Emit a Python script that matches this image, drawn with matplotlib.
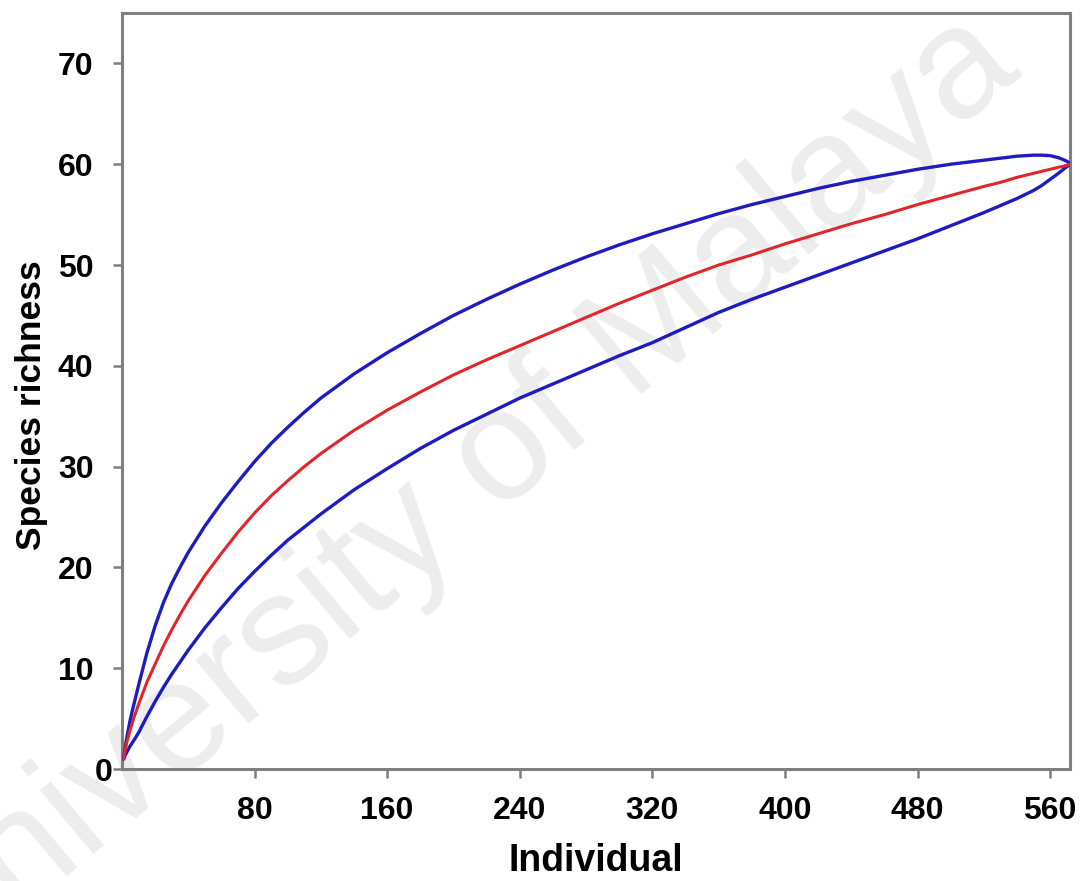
import matplotlib
matplotlib.use("Agg")
import matplotlib.pyplot as plt
import matplotlib.transforms as mtransforms

# Individual-based rarefaction curve with 95% confidence bounds
individuals = [1, 2, 3, 5, 7, 10, 15, 20, 25, 30, 35, 40, 50, 60, 70, 80, 90,
               100, 110, 120, 140, 160, 180, 200, 220, 240, 260, 280, 300, 320,
               340, 360, 380, 400, 420, 440, 460, 480, 500, 520, 530, 540, 550,
               555, 560, 565, 568, 570, 571, 572]
richness = [1.0, 1.9, 2.7, 3.9, 5.0, 6.4, 8.6, 10.4, 12.2, 13.8, 15.3, 16.7,
            19.2, 21.4, 23.5, 25.4, 27.1, 28.6, 30.0, 31.3, 33.6, 35.6, 37.4,
            39.1, 40.6, 42.0, 43.4, 44.8, 46.2, 47.5, 48.8, 50.0, 51.0, 52.1,
            53.1, 54.1, 55.0, 56.0, 56.9, 57.8, 58.2, 58.7, 59.1, 59.3, 59.5,
            59.7, 59.8, 59.9, 59.95, 60.0]
upper_ci = [1.0, 2.2, 3.2, 4.9, 6.3, 8.3, 11.5, 14.2, 16.5, 18.4, 20.0, 21.5,
            24.1, 26.4, 28.5, 30.5, 32.3, 33.9, 35.4, 36.8, 39.2, 41.3, 43.2,
            45.0, 46.6, 48.1, 49.5, 50.8, 52.0, 53.1, 54.1, 55.1, 56.0, 56.8,
            57.6, 58.3, 58.9, 59.5, 60.0, 60.4, 60.6, 60.8, 60.9, 60.9, 60.85,
            60.65, 60.45, 60.3, 60.2, 60.0]
lower_ci = [1.0, 1.4, 1.7, 2.3, 2.8, 3.6, 5.2, 6.7, 8.1, 9.4, 10.6, 11.8,
            14.0, 16.0, 17.9, 19.6, 21.2, 22.7, 24.0, 25.3, 27.7, 29.8, 31.8,
            33.6, 35.2, 36.8, 38.2, 39.6, 41.0, 42.3, 43.8, 45.3, 46.6, 47.8,
            49.0, 50.2, 51.4, 52.6, 53.9, 55.2, 55.9, 56.6, 57.4, 57.9, 58.5,
            59.1, 59.5, 59.75, 59.85, 60.0]

x_ticks = [80, 160, 240, 320, 400, 480, 560]
y_ticks = [0, 10, 20, 30, 40, 50, 60, 70]

FONT = "Liberation Sans"
BLUE = "#1c1cc0"
RED = "#e0262a"
FRAME = "#7f7f7f"

fig = plt.figure(figsize=(10.91, 8.81), dpi=100)
ax = fig.add_axes([0.1118, 0.1271, 0.9808 - 0.1118, 0.9852 - 0.1271])
ax.set_facecolor("none")

line_style = dict(solid_capstyle="round", solid_joinstyle="round")
ax.plot(individuals, upper_ci, color=BLUE, lw=2.4, zorder=3, **line_style)
ax.plot(individuals, lower_ci, color=BLUE, lw=2.4, zorder=3, **line_style)
ax.plot(individuals, richness, color=RED, lw=2.2, zorder=4, **line_style)

ax.set_xlim(0, 572)
ax.set_ylim(0, 75)
ax.set_xticks(x_ticks)
ax.set_yticks(y_ticks)
ax.set_xticklabels([str(v) for v in x_ticks])
ax.set_yticklabels([str(v) for v in y_ticks])

for side in ax.spines.values():
    side.set_color(FRAME)
    side.set_linewidth(2.2)

ax.tick_params(axis="both", direction="out", length=6.5, width=1.8,
               color=FRAME, labelsize=23)
ax.tick_params(axis="x", pad=13)
ax.tick_params(axis="y", pad=14)
for lab in ax.get_xticklabels() + ax.get_yticklabels():
    lab.set_fontfamily(FONT)
    lab.set_fontweight("bold")

# the zero label sits a little closer to the corner
zero_lab = ax.get_yticklabels()[0]
zero_lab.set_transform(zero_lab.get_transform() +
                       mtransforms.ScaledTranslation(19 / 100, 0, fig.dpi_scale_trans))

ax.set_xlabel("Individual", fontsize=27, fontweight="bold", family=FONT, labelpad=12)
ax.set_ylabel("Species richness", fontsize=25.5, fontweight="bold", family=FONT)
ax.yaxis.set_label_coords(-0.078, 0.4815)

fig.text(0.413, 0.431, "University of Malaya", fontsize=114, family=FONT,
         color="#ededed", rotation=40, ha="center", va="center", zorder=-1)

fig.savefig("out.png", dpi=100, facecolor="white")
